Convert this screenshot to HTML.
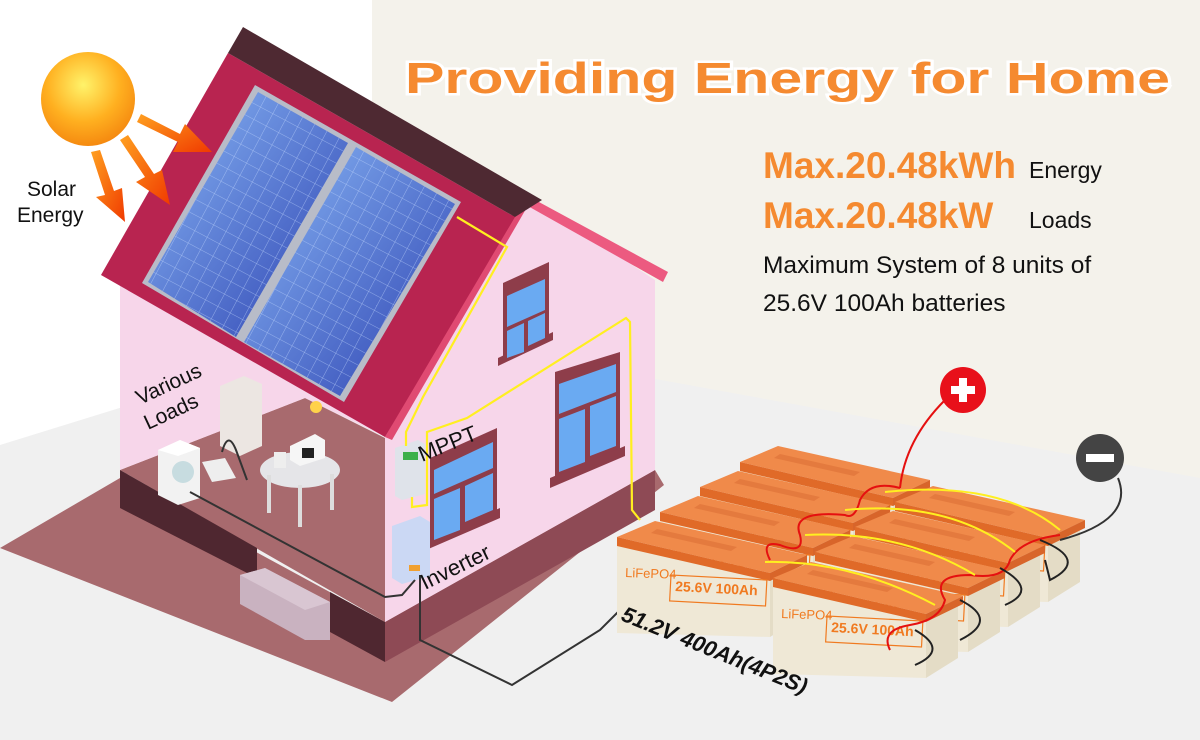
<!DOCTYPE html>
<html><head><meta charset="utf-8"><style>
html,body{margin:0;padding:0;width:1200px;height:740px;overflow:hidden;background:#fff}
svg{display:block}
text{font-family:"Liberation Sans",sans-serif}
</style></head><body>
<svg width="1200" height="740" viewBox="0 0 1200 740" xmlns="http://www.w3.org/2000/svg">
<defs>
<radialGradient id="sun" cx="0.45" cy="0.35" r="0.65"><stop offset="0" stop-color="#fff36a"/><stop offset="0.6" stop-color="#ffb020"/><stop offset="1" stop-color="#f58a10"/></radialGradient>
<linearGradient id="pv" x1="0" y1="0" x2="1" y2="1"><stop offset="0" stop-color="#8ab8f6"/><stop offset="1" stop-color="#2c40b0"/></linearGradient>
<linearGradient id="arr" x1="0" y1="0" x2="1" y2="1"><stop offset="0" stop-color="#ffa020"/><stop offset="1" stop-color="#f03a00"/></linearGradient>
<pattern id="grid" width="14" height="14" patternUnits="userSpaceOnUse" patternTransform="rotate(28)"><path d="M0 0H14M0 0V14" stroke="#c8dcff" stroke-width="0.8" fill="none" opacity="0.7"/></pattern>
<g id="bat">
<polygon points="0,3 153,36 153,100 0,96" fill="#efe8d6"/>
<polygon points="153,36 185,18 185,80 153,100" fill="#e4dcc6"/>
<polygon points="0,0 38,-16 190,18 153,36" fill="#f08a4a"/>
<polygon points="0,0 153,36 153,44 0,9" fill="#e06a28"/>
<polygon points="153,36 190,18 190,26 153,44" fill="#d8652a"/>
<polygon points="40,-8 120,10 114,14 34,-4" fill="#e47a3e"/>
<text x="8" y="40" font-size="13" fill="#f07a20" transform="rotate(2 8 40)">LiFePO4</text>
<text x="58" y="54" font-size="14" font-weight="bold" fill="#f07a20" transform="rotate(3 58 54)" font-family="Liberation Mono">25.6V 100Ah</text>
<rect x="54" y="38" width="96" height="26" fill="none" stroke="#f07a20" stroke-width="1.2" transform="rotate(3 54 38)"/>
</g>
</defs>
<!-- backgrounds -->
<rect x="0" y="0" width="1200" height="740" fill="#fff"/>
<rect x="372" y="0" width="828" height="740" fill="#f4f2eb"/>
<polygon points="0,445 372,330 650,378 1200,478 1200,740 0,740" fill="#f0f0f0"/>
<!-- ground plinth -->
<polygon points="0,548 120,478 385,622 655,470 664,485 392,702" fill="#a86a6e"/>
<!-- porch floor -->
<polygon points="120,470 305,398 385,438 385,622" fill="#a86a6e"/>
<!-- left back wall pink -->
<polygon points="120,276 385,437 305,398 120,470" fill="#f7d6ea"/>
<!-- dark blocks -->
<polygon points="120,470 257,548 257,578 120,508" fill="#4f2730"/>
<polygon points="330,592 385,622 385,662 330,632" fill="#4f2730"/>
<polygon points="385,622 655,470 655,510 385,662" fill="#8e4a55"/>
<polygon points="240,575 265,568 330,602 330,640 305,640 240,604" fill="#c9b2c0"/>
<polygon points="240,575 265,568 330,602 305,610" fill="#d9c6d2"/>
<!-- right wall -->
<polygon points="385,437 526,195 655,280 655,470 385,622" fill="#f7d6ea"/>
<polygon points="526,195 668,272 663,282 526,205" fill="#ec5a80"/>
<polygon points="385,437 520,200 530,202 392,440" fill="#e04a72"/>
<!-- roof -->
<polygon points="228,53 515,217 385,437 101,275" fill="#b82450"/>
<polygon points="228,53 243,27 542,200 515,217" fill="#4e2932"/>
<!-- panels -->
<polygon points="255,85 461,202 344,402 142,283" fill="#b8bcc8"/>
<polygon points="258,92 348,143 236,337 148,282" fill="url(#pv)"/>
<polygon points="258,92 348,143 236,337 148,282" fill="url(#grid)"/>
<polygon points="356,147 455,204 340,396 244,342" fill="url(#pv)"/>
<polygon points="356,147 455,204 340,396 244,342" fill="url(#grid)"/>
<!-- windows -->
<g fill="#8e3d4a">
<polygon points="503,283 549,262 549,340 503,360"/>
<polygon points="498,358 553,332 553,340 498,366"/>
<polygon points="555,372 620,352 620,450 555,478"/>
<polygon points="550,478 625,446 625,456 550,488"/>
<polygon points="430,458 497,428 497,510 430,542"/>
<polygon points="426,540 500,508 500,518 426,550"/>
</g>
<g fill="#6aaaf2">
<polygon points="507,296 545,279 545,310 507,327"/><polygon points="507,331 524,323 524,352 507,358"/><polygon points="528,321 545,313 545,338 528,346"/>
<polygon points="559,384 616,364 616,392 559,414"/><polygon points="559,419 585,409 585,462 559,472"/><polygon points="590,406 616,396 616,446 590,456"/>
<polygon points="434,470 493,442 493,468 434,494"/><polygon points="434,499 460,488 460,530 434,540"/><polygon points="465,486 493,473 493,510 465,522"/>
</g>
<!-- light -->
<circle cx="316" cy="407" r="6" fill="#ffd24a"/>
<!-- appliances -->
<polygon points="158,450 180,440 200,448 200,498 178,505 158,495" fill="#f2f2f2"/>
<polygon points="158,450 180,440 200,448 178,456" fill="#fff"/>
<circle cx="183" cy="472" r="11" fill="#c7dce0"/>
<polygon points="220,386 244,376 262,384 262,446 240,456 220,446" fill="#ece6e2"/>
<polygon points="202,462 225,458 236,478 212,482" fill="#eee"/>
<path d="M222 452 Q228 430 236 450 L247 480" stroke="#333" stroke-width="2" fill="none"/>
<ellipse cx="300" cy="470" rx="40" ry="18" fill="#e5e5e8"/>
<rect x="267" y="475" width="4" height="38" fill="#ddd"/><rect x="298" y="485" width="4" height="42" fill="#ddd"/><rect x="330" y="474" width="4" height="36" fill="#ddd"/>
<polygon points="290,446 315,434 325,440 325,458 300,466 290,460" fill="#f6f6f6"/>
<rect x="302" y="448" width="12" height="10" fill="#222"/>
<rect x="274" y="452" width="12" height="16" fill="#eee"/>
<!-- MPPT & Inverter -->
<polygon points="395,448 418,440 425,444 425,494 402,500 395,496" fill="#dfe3ea"/>
<rect x="403" y="452" width="15" height="8" fill="#3bb04a"/>
<polygon points="392,526 420,516 430,522 430,576 402,584 392,578" fill="#cbd8f4"/>
<rect x="409" y="565" width="11" height="6" fill="#f0a030"/>
<!-- yellow wires -->
<g stroke="#ffef20" stroke-width="2.2" fill="none">
<path d="M457 217 L507 247 L423 397 L406 432 L406 446"/>
<path d="M412 497 L412 507 L427 505 L427 432 L467 418 L626 318 L630 322 L632 510 L640 520"/>
</g>
<!-- black wires -->
<g stroke="#333" stroke-width="2" fill="none">
<path d="M190 492 L385 597 L402 595 L415 580"/>
<path d="M420 575 L420 640 L512 685 L600 630 L620 610"/>
</g>
<!-- batteries -->
<use href="#bat" x="740" y="462"/>
<use href="#bat" x="700" y="487"/>
<use href="#bat" x="660" y="512"/>
<use href="#bat" x="895" y="502"/>
<use href="#bat" x="855" y="527"/>
<use href="#bat" x="815" y="552"/>
<use href="#bat" x="617" y="537"/>
<use href="#bat" x="773" y="578"/>
<!-- battery wiring -->
<g fill="none" stroke-width="2">
<path d="M900 488 Q870 480 860 500 Q855 520 845 515 Q790 510 800 535 Q805 555 780 545 Q760 540 770 560" stroke="#e51010"/>
<path d="M1060 535 Q1020 540 1010 560 Q1005 580 970 575 Q930 575 945 600 Q940 620 910 625 Q880 630 890 650" stroke="#e51010"/>
<path d="M885 492 Q1000 480 1060 530" stroke="#ffef20"/>
<path d="M845 510 Q950 500 1015 552" stroke="#ffef20"/>
<path d="M805 535 Q900 530 975 575" stroke="#ffef20"/>
<path d="M765 562 Q850 560 935 605" stroke="#ffef20"/>
<path d="M1040 540 Q1090 560 1050 580 L1045 560" stroke="#222"/>
<path d="M1000 568 Q1040 590 1005 605" stroke="#222"/>
<path d="M960 600 Q1000 620 960 640" stroke="#222"/>
<path d="M915 630 Q950 650 915 665" stroke="#222"/>
<path d="M1060 540 Q1135 520 1118 478" stroke="#333"/>
<path d="M900 488 Q905 440 945 400" stroke="#e51010"/>
</g>
<!-- +/- -->
<circle cx="963" cy="390" r="23" fill="#e8101a"/>
<rect x="951" y="386" width="24" height="8" fill="#fff"/><rect x="959" y="378" width="8" height="24" fill="#fff"/>
<circle cx="1100" cy="458" r="24" fill="#444"/>
<rect x="1086" y="454" width="28" height="8" fill="#fff"/>
<!-- sun -->
<circle cx="88" cy="99" r="47" fill="url(#sun)"/>
<g fill="url(#arr)">
<polygon points="141,114 180,134 185,124 212,152 173,152 178,142 137,122"/>
<polygon points="120,140 145,177 136,182 170,205 162,170 154,174 128,135"/>
<polygon points="91,152 105,195 96,197 125,222 122,188 114,191 100,150"/>
</g>
<!-- labels -->
<text x="27" y="196" font-size="21" fill="#111">Solar</text>
<text x="17" y="222" font-size="21" fill="#111">Energy</text>
<text x="140" y="405" font-size="21" fill="#111" transform="rotate(-25 140 405)">Various</text>
<text x="148" y="430" font-size="21" fill="#111" transform="rotate(-25 148 430)">Loads</text>
<text x="422" y="462" font-size="22" fill="#111" transform="rotate(-22 422 462)">MPPT</text>
<text x="425" y="590" font-size="22" fill="#111" transform="rotate(-26 425 590)">Inverter</text>
<text x="620" y="620" font-size="22" font-weight="bold" font-style="italic" fill="#111" transform="rotate(22 620 620)">51.2V 400Ah(4P2S)</text>
<text x="405" y="93" font-size="44" font-weight="bold" fill="#f58a30" stroke="#fff" stroke-width="5" paint-order="stroke" font-family="Liberation Mono" textLength="765" lengthAdjust="spacingAndGlyphs">Providing Energy for Home</text>
<text x="763" y="178" font-size="37" font-weight="bold" fill="#f58a30">Max.20.48kWh</text>
<text x="1029" y="178" font-size="23" fill="#111">Energy</text>
<text x="763" y="228" font-size="37" font-weight="bold" fill="#f58a30">Max.20.48kW</text>
<text x="1029" y="228" font-size="23" fill="#111">Loads</text>
<text x="763" y="273" font-size="24.5" fill="#111">Maximum System of 8 units of</text>
<text x="763" y="311" font-size="24.5" fill="#111">25.6V 100Ah batteries</text>
</svg>
</body></html>
